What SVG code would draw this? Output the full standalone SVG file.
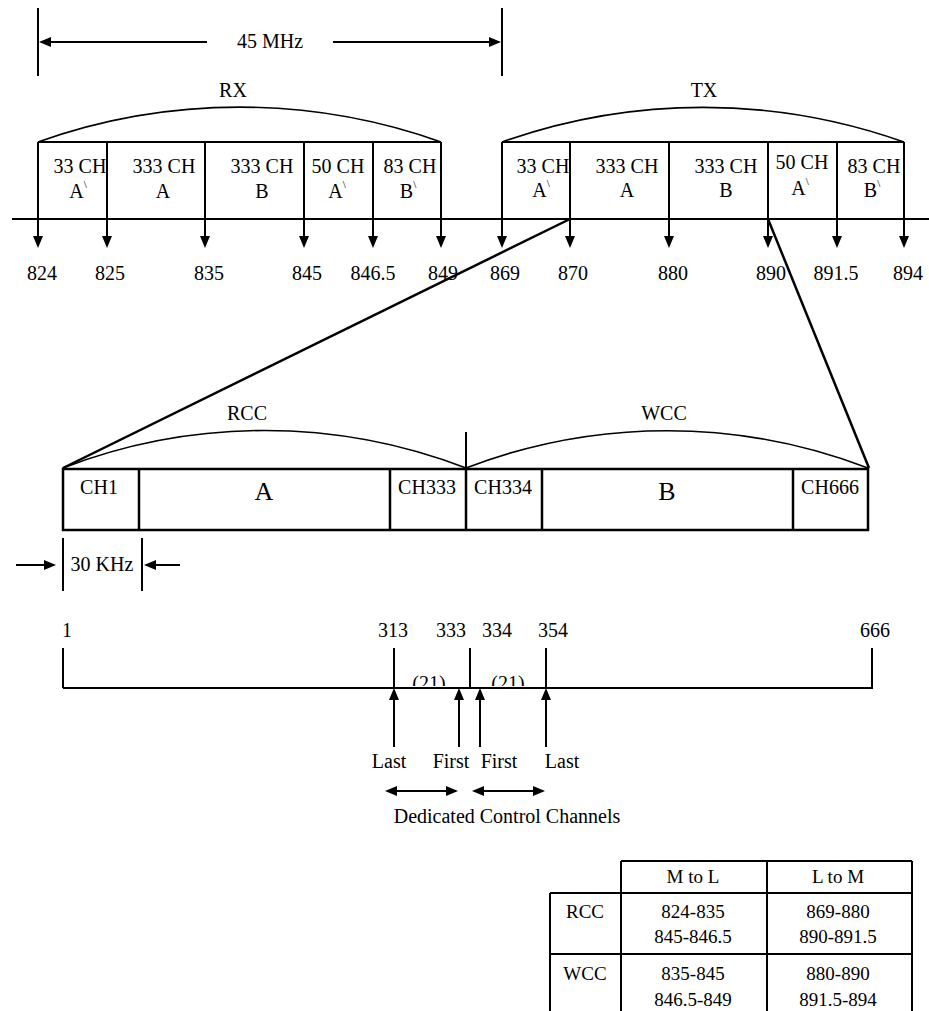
<svg xmlns="http://www.w3.org/2000/svg" width="929" height="1011" viewBox="0 0 929 1011">
<style>
text{font-family:"Liberation Serif","Times New Roman","DejaVu Serif",serif;font-size:20px;fill:#000;text-anchor:middle}
.ln{stroke:#000;stroke-width:2;fill:none}
.th{stroke:#000;stroke-width:2.5;fill:none}
.arc{stroke:#000;stroke-width:1.6;fill:none}
.sup{font-size:11px}
.big{font-size:26px}
.tb{font-size:19px}
</style>
<defs>
<marker id="ah" viewBox="0 0 12 10" refX="10" refY="5" markerWidth="12" markerHeight="10" markerUnits="userSpaceOnUse" orient="auto">
<path d="M0,0 L12,5 L0,10 z" fill="#000"/>
</marker>
<marker id="ahs" viewBox="0 0 12 10" refX="0" refY="5" markerWidth="12" markerHeight="10" markerUnits="userSpaceOnUse" orient="auto-start-reverse">
<path d="M0,0 L12,5 L0,10 z" fill="#000"/>
</marker>
<clipPath id="cl21"><rect x="380" y="660" width="200" height="26"/></clipPath>
</defs>

<g id="span45">
<line class="ln" x1="38" y1="8" x2="38" y2="76"/>
<line class="ln" x1="502" y1="8" x2="502" y2="76"/>
<line class="ln" x1="207" y1="42" x2="41" y2="42" marker-end="url(#ah)"/>
<line class="ln" x1="333" y1="42" x2="499" y2="42" marker-end="url(#ah)"/>
<text x="270" y="48" font-family="Liberation Serif, serif">45 MHz</text>
</g>

<g id="axis">
<line class="ln" x1="12" y1="219" x2="929" y2="219"/>
</g>

<g id="rx">
<text x="233" y="97">RX</text>
<path class="arc" d="M38,142 A600,600 0 0 1 441,142"/>
<line class="ln" x1="38" y1="142" x2="441" y2="142"/>
<text x="80" y="173">33 CH</text><text x="78" y="198">A<tspan class="sup" dy="-10">\</tspan></text>
<text x="164" y="173">333 CH</text><text x="163" y="198">A</text>
<text x="262" y="173">333 CH</text><text x="262" y="198">B</text>
<text x="338" y="173">50 CH</text><text x="337" y="198">A<tspan class="sup" dy="-10">\</tspan></text>
<text x="410" y="173">83 CH</text><text x="408" y="198">B<tspan class="sup" dy="-10">\</tspan></text>
</g>

<g id="rx-ticks">
<line class="ln" x1="38" y1="142" x2="38" y2="246" marker-end="url(#ah)"/>
<line class="ln" x1="107" y1="142" x2="107" y2="246" marker-end="url(#ah)"/>
<line class="ln" x1="205" y1="142" x2="205" y2="246" marker-end="url(#ah)"/>
<line class="ln" x1="304" y1="142" x2="304" y2="246" marker-end="url(#ah)"/>
<line class="ln" x1="373" y1="142" x2="373" y2="246" marker-end="url(#ah)"/>
<line class="ln" x1="441" y1="142" x2="441" y2="246" marker-end="url(#ah)"/>
<text x="42" y="280">824</text>
<text x="110" y="280">825</text>
<text x="209" y="280">835</text>
<text x="307" y="280">845</text>
<text x="373" y="280">846.5</text>
<text x="443" y="280">849</text>
</g>

<g id="tx">
<text x="704" y="97">TX</text>
<path class="arc" d="M502,142 A600,600 0 0 1 904,142"/>
<line class="ln" x1="502" y1="142" x2="904" y2="142"/>
<text x="543" y="173">33 CH</text><text x="541" y="197">A<tspan class="sup" dy="-10">\</tspan></text>
<text x="627" y="173">333 CH</text><text x="627" y="197">A</text>
<text x="726" y="173">333 CH</text><text x="726" y="197">B</text>
<text x="802" y="169">50 CH</text><text x="800" y="195">A<tspan class="sup" dy="-10">\</tspan></text>
<text x="874" y="173">83 CH</text><text x="872" y="197">B<tspan class="sup" dy="-10">\</tspan></text>
</g>

<g id="tx-ticks">
<line class="ln" x1="502" y1="142" x2="502" y2="246" marker-end="url(#ah)"/>
<line class="ln" x1="570" y1="142" x2="570" y2="246" marker-end="url(#ah)"/>
<line class="ln" x1="669" y1="142" x2="669" y2="246" marker-end="url(#ah)"/>
<line class="ln" x1="768" y1="142" x2="768" y2="246" marker-end="url(#ah)"/>
<line class="ln" x1="837" y1="142" x2="837" y2="246" marker-end="url(#ah)"/>
<line class="ln" x1="904" y1="142" x2="904" y2="246" marker-end="url(#ah)"/>
<text x="505" y="280">869</text>
<text x="573" y="280">870</text>
<text x="673" y="280">880</text>
<text x="771" y="280">890</text>
<text x="836" y="280">891.5</text>
<text x="908" y="280">894</text>
</g>

<g id="connectors">
<line class="th" x1="570" y1="219" x2="63" y2="468"/>
<line class="th" x1="768" y1="219" x2="869" y2="468"/>
</g>

<g id="channel-block">
<text x="247" y="420">RCC</text>
<text x="664" y="420">WCC</text>
<path class="arc" d="M63,468 A560,560 0 0 1 466,468"/>
<path class="arc" d="M466,468 A560,560 0 0 1 868,468"/>
<line class="ln" x1="466" y1="432" x2="466" y2="469"/>
<rect x="63" y="469" width="805" height="61" class="th"/>
<line class="th" x1="139" y1="469" x2="139" y2="530"/>
<line class="th" x1="390" y1="469" x2="390" y2="530"/>
<line class="th" x1="466" y1="469" x2="466" y2="530"/>
<line class="th" x1="542" y1="469" x2="542" y2="530"/>
<line class="th" x1="793" y1="469" x2="793" y2="530"/>
<text x="99" y="494">CH1</text>
<text x="264" y="500" class="big">A</text>
<text x="427" y="494">CH333</text>
<text x="503" y="494">CH334</text>
<text x="667" y="500" class="big">B</text>
<text x="830" y="494">CH666</text>
</g>

<g id="width30">
<line class="ln" x1="63" y1="538" x2="63" y2="591"/>
<line class="ln" x1="142" y1="538" x2="142" y2="591"/>
<line class="ln" x1="16" y1="565" x2="54" y2="565" marker-end="url(#ah)"/>
<line class="ln" x1="180" y1="565" x2="146" y2="565" marker-end="url(#ah)"/>
<text x="102" y="571">30 KHz</text>
</g>

<g id="scale">
<line class="ln" x1="63" y1="688" x2="871" y2="688"/>
<line class="ln" x1="63" y1="648" x2="63" y2="688"/>
<line class="ln" x1="394" y1="648" x2="394" y2="688"/>
<line class="ln" x1="470" y1="648" x2="470" y2="688"/>
<line class="ln" x1="546" y1="648" x2="546" y2="688"/>
<line class="ln" x1="872" y1="648" x2="872" y2="689"/>
<text x="67" y="637">1</text>
<text x="393" y="637">313</text>
<text x="451" y="637">333</text>
<text x="497" y="637">334</text>
<text x="553" y="637">354</text>
<text x="875" y="637">666</text>
<g clip-path="url(#cl21)">
<text x="429" y="690" font-size="19">(21)</text>
<text x="508" y="690" font-size="19">(21)</text>
</g>
</g>

<g id="control-arrows">
<line class="ln" x1="394" y1="747" x2="394" y2="690" marker-end="url(#ah)"/>
<line class="ln" x1="459" y1="747" x2="459" y2="690" marker-end="url(#ah)"/>
<line class="ln" x1="480" y1="747" x2="480" y2="690" marker-end="url(#ah)"/>
<line class="ln" x1="546" y1="747" x2="546" y2="690" marker-end="url(#ah)"/>
<text x="389" y="768">Last</text>
<text x="451" y="768">First</text>
<text x="499" y="768">First</text>
<text x="562" y="768">Last</text>
<line class="ln" x1="397" y1="791" x2="456" y2="791" marker-start="url(#ahs)" marker-end="url(#ah)"/>
<line class="ln" x1="484" y1="791" x2="543" y2="791" marker-start="url(#ahs)" marker-end="url(#ah)"/>
<text x="507" y="823">Dedicated Control Channels</text>
</g>

<g id="table">
<line class="ln" x1="621" y1="861" x2="912" y2="861"/>
<line class="ln" x1="550" y1="893" x2="912" y2="893"/>
<line class="ln" x1="550" y1="954" x2="912" y2="954"/>
<line class="ln" x1="550" y1="893" x2="550" y2="1011"/>
<line class="ln" x1="621" y1="861" x2="621" y2="1011"/>
<line class="ln" x1="767" y1="861" x2="767" y2="1011"/>
<line class="ln" x1="912" y1="861" x2="912" y2="1011"/>
<text class="tb" x="693" y="883">M to L</text>
<text class="tb" x="838" y="883">L to M</text>
<text class="tb" x="585" y="918">RCC</text>
<text class="tb" x="693" y="918">824-835</text>
<text class="tb" x="693" y="943">845-846.5</text>
<text class="tb" x="838" y="918">869-880</text>
<text class="tb" x="838" y="943">890-891.5</text>
<text class="tb" x="585" y="980">WCC</text>
<text class="tb" x="693" y="980">835-845</text>
<text class="tb" x="693" y="1006">846.5-849</text>
<text class="tb" x="838" y="980">880-890</text>
<text class="tb" x="838" y="1006">891.5-894</text>
</g>
</svg>
